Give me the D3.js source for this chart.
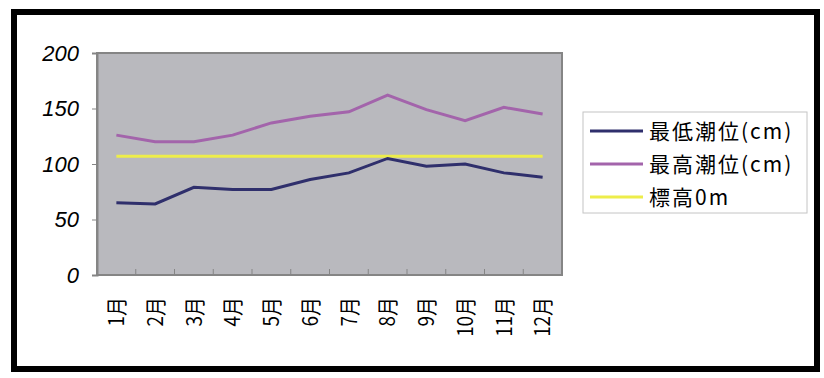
<!DOCTYPE html>
<html>
<head>
  <meta charset="utf-8">
  <title>潮位</title>
  <script src="https://d3js.org/d3.v7.min.js"></script>
  <style>
    body { margin: 0; background: #fff; }
  </style>
</head>
<body>
  <svg id="chart"></svg>

  <script>
    const months = ["1月", "2月", "3月", "4月", "5月", "6月", "7月", "8月", "9月", "10月", "11月", "12月"];
    const lowTide = [65, 64, 79, 77, 77, 86, 92, 105, 98, 100, 92, 88];
    const highTide = [126, 120, 120, 126, 137, 143, 147, 162, 149, 139, 151, 145];
    const zeroLevel = [107, 107, 107, 107, 107, 107, 107, 107, 107, 107, 107, 107];
    const seriesNames = ["最低潮位(cm)", "最高潮位(cm)", "標高0m"];
    const yTicks = [0, 50, 100, 150, 200];

    const width = 824;
    const height = 378;
    const svg = d3.select("#chart")
      .attr("width", width)
      .attr("height", height);

    // 外枠
    svg.append("rect")
      .attr("x", 14).attr("y", 12)
      .attr("width", 803).attr("height", 357)
      .attr("fill", "#fff")
      .attr("stroke", "#000")
      .attr("stroke-width", 6);

    const plot = { left: 97, right: 562, top: 53, bottom: 275 };

    const x = d3.scaleBand().domain(months).range([plot.left, plot.right]);
    const y = d3.scaleLinear().domain([0, 200]).range([plot.bottom, plot.top]);

    // プロットエリア
    svg.append("rect")
      .attr("x", plot.left).attr("y", plot.top)
      .attr("width", plot.right - plot.left)
      .attr("height", plot.bottom - plot.top)
      .attr("fill", "#b9b9be")
      .attr("stroke", "#858585")
      .attr("stroke-width", 2);

    // y軸
    const yAxis = svg.append("g")
      .attr("transform", `translate(${plot.left},0)`)
      .call(d3.axisLeft(y).tickValues(yTicks).tickSize(5).tickPadding(13));
    yAxis.select(".domain").attr("stroke", "#858585").attr("stroke-width", 2);
    yAxis.selectAll(".tick line").attr("stroke", "#858585");
    yAxis.selectAll("text")
      .attr("font-family", "'Liberation Sans', Arial, sans-serif")
      .attr("font-style", "italic")
      .attr("font-size", "22px")
      .attr("fill", "#000");

    // x軸の目盛り（内側）
    svg.append("g")
      .selectAll("line")
      .data(months.slice(1))
      .join("line")
      .attr("x1", d => x(d)).attr("x2", d => x(d))
      .attr("y1", plot.bottom).attr("y2", plot.bottom - 6)
      .attr("stroke", "#858585");

    svg.append("g")
      .selectAll("text")
      .data(months)
      .join("text")
      .attr("transform", d => `translate(${x(d) + x.bandwidth() / 2},297) rotate(-90) scale(0.9,1)`)
      .attr("text-anchor", "end")
      .attr("dy", "0.37em")
      .attr("font-family", "'Noto Sans CJK JP', sans-serif")
      .attr("font-size", "21px")
      .attr("fill", "#000")
      .text(d => d);

    const series = [
      { name: seriesNames[0], values: lowTide, color: "#2f2f6c" },
      { name: seriesNames[1], values: highTide, color: "#a364ab" },
      { name: seriesNames[2], values: zeroLevel, color: "#eded4a" }
    ];

    const line = d3.line()
      .x((d, i) => x(months[i]) + x.bandwidth() / 2)
      .y(d => y(d));

    svg.append("g")
      .selectAll("path")
      .data(series.slice().reverse())
      .join("path")
      .attr("d", d => line(d.values))
      .attr("fill", "none")
      .attr("stroke", d => d.color)
      .attr("stroke-width", 3);

    // 凡例
    const legend = svg.append("g");
    legend.append("rect")
      .attr("x", 583).attr("y", 112)
      .attr("width", 224).attr("height", 101)
      .attr("fill", "#fff")
      .attr("stroke", "#c4c4c4");

    const items = legend.selectAll("g.item")
      .data(series)
      .join("g")
      .attr("class", "item")
      .attr("transform", (d, i) => `translate(590,${131 + i * 33})`);

    items.append("line")
      .attr("x1", 0).attr("x2", 53)
      .attr("stroke", d => d.color)
      .attr("stroke-width", 3);

    items.append("text")
      .attr("x", 59)
      .attr("dy", "0.36em")
      .attr("font-family", "'Noto Sans CJK JP', sans-serif")
      .attr("font-size", "21px")
      .attr("letter-spacing", "2px")
      .attr("fill", "#000")
      .text(d => d.name);
  </script>
</body>
</html>
